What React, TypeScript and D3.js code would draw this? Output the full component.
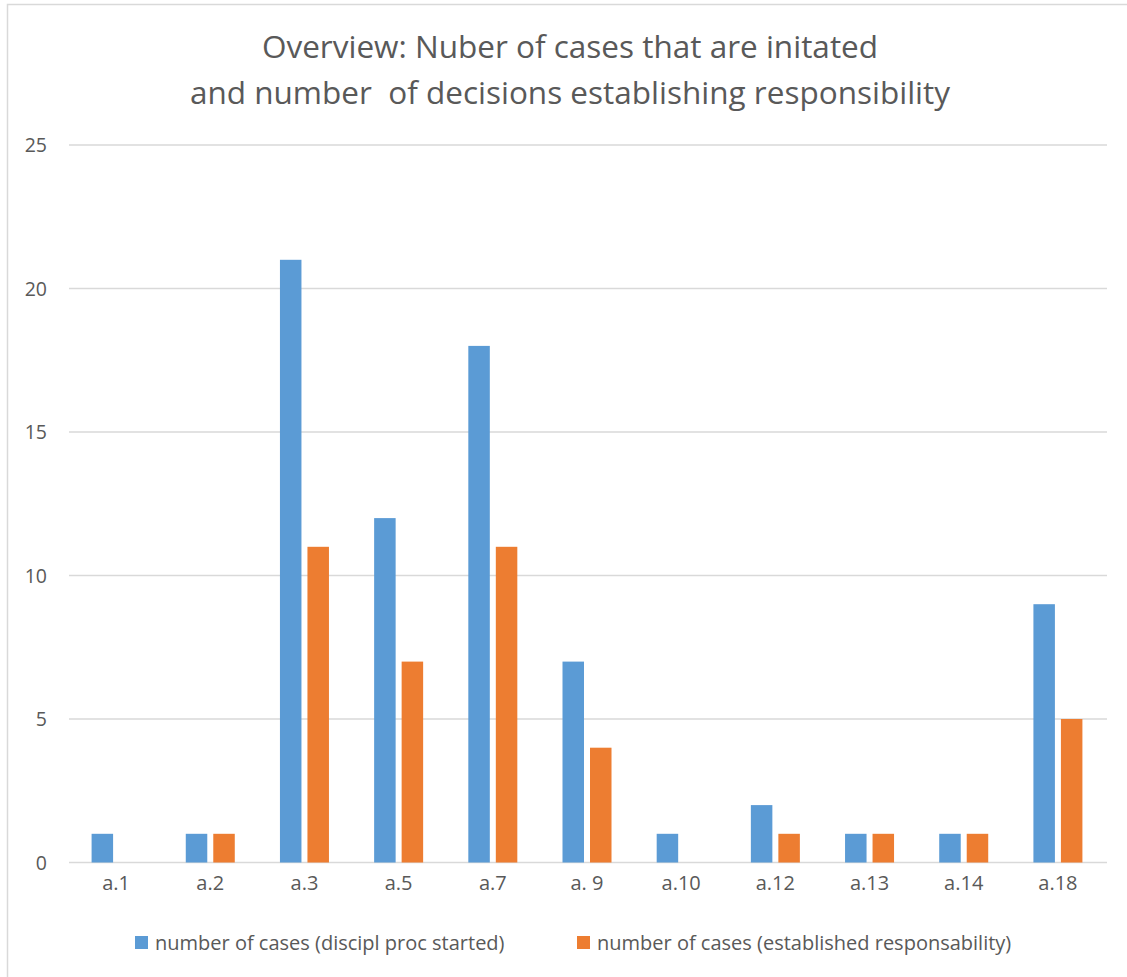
import * as d3 from 'd3'
import { useEffect, useRef } from "react";

const categories = ['a.1', 'a.2', 'a.3', 'a.5', 'a.7', 'a. 9', 'a.10', 'a.12', 'a.13', 'a.14', 'a.18'];
const started = [1, 1, 21, 12, 18, 7, 1, 2, 1, 1, 9];
const established = [0, 1, 11, 7, 11, 4, 0, 1, 1, 1, 5];
const yTicks = [0, 5, 10, 15, 20, 25];
const seriesNames = ['number of cases (discipl proc started)', 'number of cases (established responsability)'];
const colors = ['#5B9BD5', '#ED7D31'];

const W = 1127;
const H = 977;
const FONT = '"Open Sans", "Liberation Sans", sans-serif';

const App = () => {
  const svgRef = useRef(null);

  useEffect(() => {
    const svg = d3.select(svgRef.current);
    svg.selectAll('*').remove();

    const left = 69, right = 1105, top = 145, bottom = 862.5;

    // frame
    svg.append('path')
      .attr('d', `M7.5,${H} L7.5,4.5 L${W},4.5`)
      .attr('fill', 'none')
      .attr('stroke', '#d9d9d9')
      .attr('stroke-width', 1.5);

    const x = d3.scaleBand().domain(categories).range([left, right]);
    const y = d3.scaleLinear().domain([0, 25]).range([bottom, top]);

    // title
    const title = svg.append('text')
      .attr('text-anchor', 'middle')
      .attr('fill', '#595959')
      .style('font-family', FONT)
      .style('font-size', '31.5px');
    title.append('tspan').attr('x', 570).attr('y', 58).text('Overview: Nuber of cases that are initated');
    title.append('tspan').attr('x', 570).attr('y', 104).text('and number\u00a0 of decisions establishing responsibility');

    // grid
    svg.append('g').selectAll('line')
      .data(yTicks)
      .enter()
      .append('line')
      .attr('x1', left)
      .attr('x2', right + 2)
      .attr('y1', d => y(d))
      .attr('y2', d => y(d))
      .attr('stroke', '#d9d9d9')
      .attr('stroke-width', 1.3);

    svg.append('g').selectAll('text')
      .data(yTicks)
      .enter()
      .append('text')
      .attr('x', 47)
      .attr('y', d => y(d) + 7)
      .attr('text-anchor', 'end')
      .attr('fill', '#595959')
      .style('font-family', FONT)
      .style('font-size', '19.5px')
      .text(d => d);

    // bars
    const bw = 21.5, gap = 3;
    const series = [started, established];
    series.forEach((vals, si) => {
      svg.append('g').selectAll('rect')
        .data(vals.map((v, i) => ({ v, c: categories[i] })))
        .enter()
        .append('rect')
        .attr('x', d => x(d.c) + x.bandwidth() / 2 + (si === 0 ? -gap - bw : gap))
        .attr('y', d => y(d.v))
        .attr('width', bw)
        .attr('height', d => bottom - y(d.v))
        .attr('fill', colors[si]);
    });

    // x labels
    svg.append('g').selectAll('text')
      .data(categories)
      .enter()
      .append('text')
      .attr('x', d => x(d) + x.bandwidth() / 2)
      .attr('y', 890)
      .attr('text-anchor', 'middle')
      .attr('fill', '#595959')
      .style('font-family', FONT)
      .style('font-size', '20px')
      .text(d => d);

    // legend
    const legendX = [135, 577];
    seriesNames.forEach((name, i) => {
      svg.append('rect')
        .attr('x', legendX[i])
        .attr('y', 936)
        .attr('width', 13)
        .attr('height', 13)
        .attr('fill', colors[i]);
      svg.append('text')
        .attr('x', legendX[i] + 20)
        .attr('y', 950)
        .attr('fill', '#595959')
        .style('font-family', FONT)
        .style('font-size', '20px')
        .text(name);
    });
  }, []);

  return (
    <svg ref={svgRef} width={W} height={H}
      style={{ position: 'absolute', left: 0, top: 0, background: '#fff' }} />
  );
};

export default App;
